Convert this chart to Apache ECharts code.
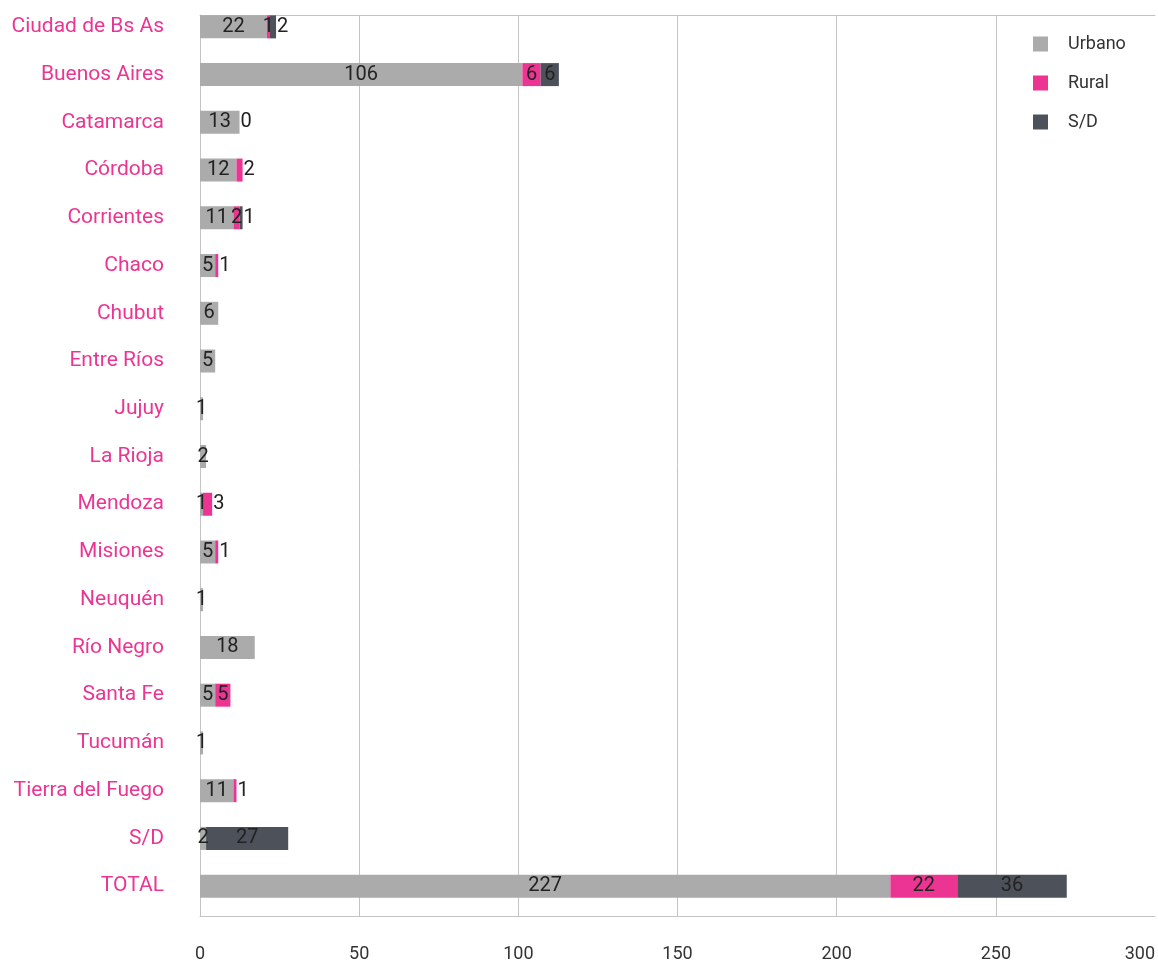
<!DOCTYPE html>
<html>
<head>
<meta charset="utf-8">
<script src="https://cdn.jsdelivr.net/npm/echarts@6/dist/echarts.min.js"></script>
<style>
  html, body { margin: 0; padding: 0; background: #fff; overflow: hidden; }
  #chart { width: 1158px; height: 963px; }
</style>
</head>
<body>
<div id="chart"></div>
<script>
// datos
const categorias = ['Ciudad de Bs As', 'Buenos Aires', 'Catamarca', 'Córdoba', 'Corrientes', 'Chaco', 'Chubut',
  'Entre Ríos', 'Jujuy', 'La Rioja', 'Mendoza', 'Misiones', 'Neuquén', 'Río Negro', 'Santa Fe', 'Tucumán',
  'Tierra del Fuego', 'S/D', 'TOTAL']
const urbano = [22, 106, 13, 12, 11, 5, 6, 5, 1, 2, 1, 5, 1, 18, 5, 1, 11, 2, 227]
const rural = [1, 6, null, 2, 2, 1, null, null, null, null, 3, 1, null, null, 5, null, 1, null, 22]
const sinDato = [2, 6, 0, null, 1, null, null, null, null, null, null, null, null, null, null, null, null, 27, 36]
const ticksX = [0, 50, 100, 150, 200, 250, 300]

const fuente = 'Roboto, "Noto Sans", sans-serif'
const rosa = '#ec3592'
const gris = '#c4c4c4'

const chart = echarts.init(document.getElementById('chart'))

const todas = [urbano, rural, sinDato]

// etiqueta afuera si es el ultimo tramo y es angosto
function armar(arr, k) {
  return arr.map(function (v, i) {
    if (v === null) return null
    let ultimo = true
    for (let j = k + 1; j < todas.length; j++) {
      if (todas[j][i] !== null) ultimo = false
    }
    if (k > 0 && ultimo && v <= 3) {
      return { value: v, label: { position: 'right', distance: 1 } }
    }
    return v
  })
}

function serie(name, data, k, color) {
  return {
    name: name,
    type: 'bar',
    stack: 'total',
    xAxisIndex: 1,
    yAxisIndex: 1,
    barWidth: 23,
    itemStyle: { color: color },
    label: {
      show: true,
      position: 'inside',
      color: '#222',
      fontFamily: fuente,
      fontSize: 20,
      padding: [3, 0, 0, 0]
    },
    data: armar(data, k)
  }
}

chart.setOption({
  animation: false,
  legend: {
    orient: 'vertical',
    left: 1028,
    top: 30,
    itemWidth: 15,
    itemHeight: 15,
    itemGap: 21,
    icon: 'rect',
    textStyle: { color: '#333', fontFamily: fuente, fontSize: 18, padding: [0, 0, 0, 15] },
    data: ['Urbano', 'Rural', 'S/D']
  },
  grid: [
    // marco con lineas de referencia
    { left: 200, top: 15, width: 960, height: 901 },
    // area de barras
    { left: 200, top: 3, width: 960, height: 907 }
  ],
  xAxis: [
    {
      gridIndex: 0,
      type: 'value',
      min: ticksX[0],
      max: ticksX[ticksX.length - 1],
      interval: 50,
      axisLine: { show: true, lineStyle: { color: gris } },
      axisTick: { show: false },
      splitLine: { showMinLine: false, showMaxLine: false, lineStyle: { color: gris } },
      axisLabel: {
        color: '#333',
        fontFamily: fuente,
        fontSize: 18,
        margin: 29,
        alignMaxLabel: 'right'
      }
    },
    { gridIndex: 1, type: 'value', min: 0, max: 315, show: false },
    // linea superior del marco
    {
      gridIndex: 0,
      type: 'value',
      position: 'top',
      min: 0,
      max: 300,
      axisLine: { show: true, lineStyle: { color: gris } },
      axisTick: { show: false },
      axisLabel: { show: false },
      splitLine: { show: false }
    }
  ],
  yAxis: [
    {
      gridIndex: 0,
      type: 'value',
      min: 0,
      max: 1,
      axisLine: { show: true, lineStyle: { color: gris } },
      axisTick: { show: false },
      axisLabel: { show: false },
      splitLine: { show: false }
    },
    {
      gridIndex: 1,
      type: 'category',
      inverse: true,
      data: categorias,
      axisLine: { show: false },
      axisTick: { show: false },
      axisLabel: {
        color: rosa,
        fontFamily: fuente,
        fontSize: 21,
        margin: 36,
        padding: [4, 0, 0, 0]
      }
    }
  ],
  series: [
    serie('Urbano', urbano, 0, '#aaabaa'),
    serie('Rural', rural, 1, rosa),
    serie('S/D', sinDato, 2, '#4c515a')
  ]
})
</script>
</body>
</html>
